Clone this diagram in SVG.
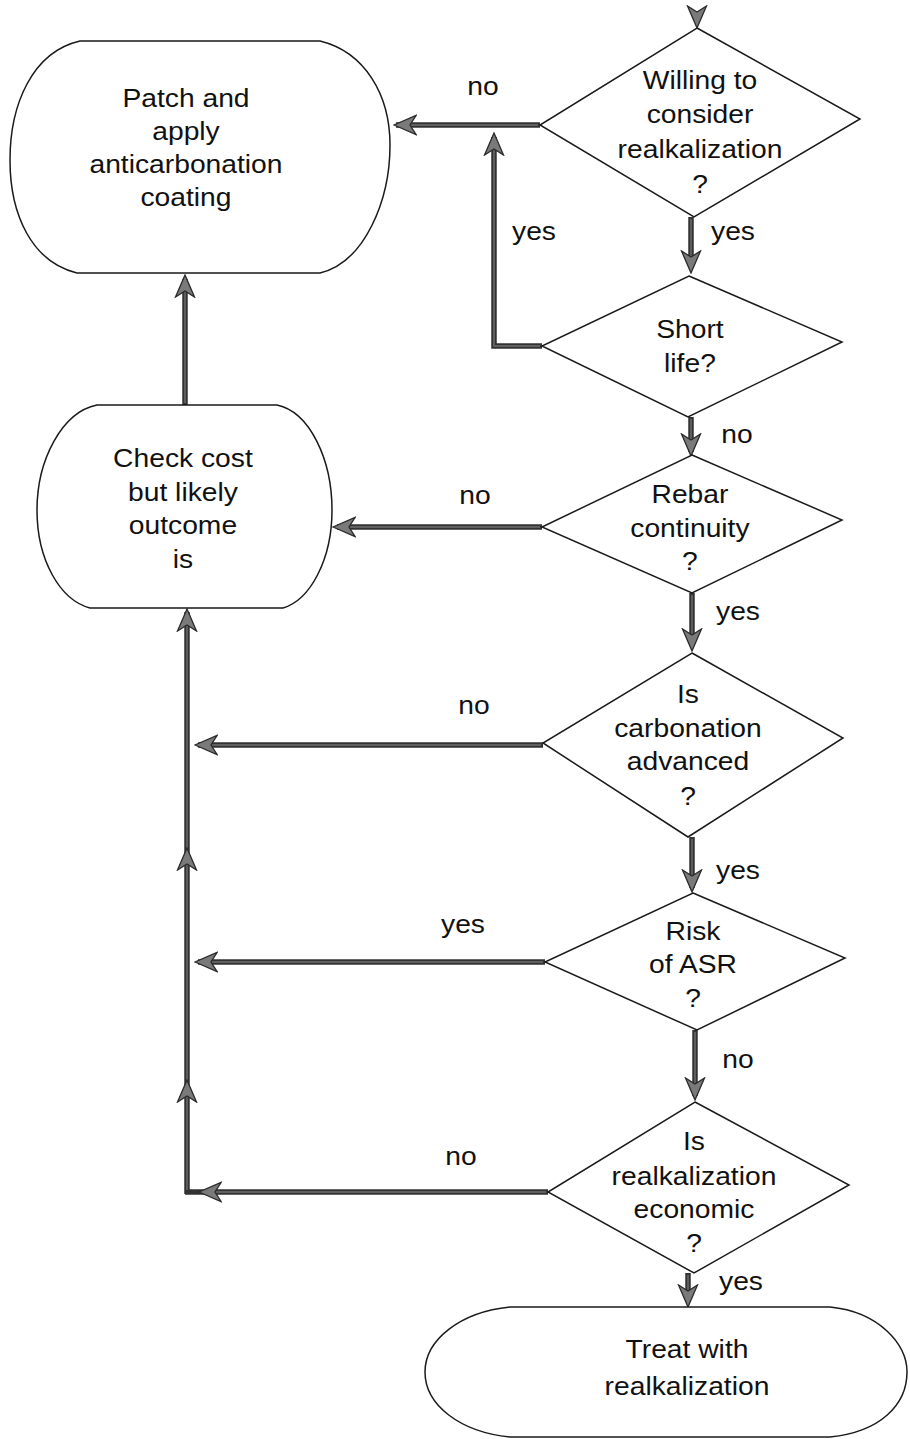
<svg xmlns="http://www.w3.org/2000/svg" width="910" height="1439" viewBox="0 0 910 1439">
<defs>
<style>
.bg{fill:#ffffff}
.node{fill:#ffffff;stroke:#1a1a1a;stroke-width:1.5}
.t{font-family:"Liberation Sans",Arial,Helvetica,sans-serif;font-size:25px;fill:#111;text-anchor:middle;transform-box:fill-box;transform-origin:center;transform:scaleX(1.13)}
.sh{fill:none;stroke:#333333;stroke-width:5.5}
.in{fill:none;stroke:#707070;stroke-width:1.4}
.hd{fill:none;stroke:none;marker-end:url(#ah)}
</style>
<marker id="ah" markerUnits="userSpaceOnUse" markerWidth="24" markerHeight="24" viewBox="-23 -12 24 24" refX="0" refY="0" orient="auto">
<path d="M0,0 L-22,-9.5 L-16,0 L-22,9.5 Z" fill="#7a7a7a" stroke="#2a2a2a" stroke-width="1.3" stroke-linejoin="miter"/>
</marker>
</defs>
<rect class="bg" x="0" y="0" width="910" height="1439"/>

<g id="connectors">
<path class="sh" d="M540,125 H396"/>
<path class="sh" d="M542,346 H494 V137"/>
<path class="sh" d="M691,217 V268"/>
<path class="sh" d="M691,417 V452"/>
<path class="sh" d="M692,593 V646"/>
<path class="sh" d="M692,837 V888"/>
<path class="sh" d="M695,1030 V1096"/>
<path class="sh" d="M688,1273 V1302"/>
<path class="sh" d="M542,527 H337"/>
<path class="sh" d="M543,745 H198"/>
<path class="sh" d="M545,962 H198"/>
<path class="sh" d="M548,1192 H185"/>
<path class="sh" d="M187,1194 V612"/>
<path class="sh" d="M185,405 V279"/>
<path class="in" d="M538,125 H405"/>
<path class="in" d="M540,346 H494 V146"/>
<path class="in" d="M691,219 V258"/>
<path class="in" d="M691,419 V445"/>
<path class="in" d="M692,595 V640"/>
<path class="in" d="M692,839 V880"/>
<path class="in" d="M695,1032 V1088"/>
<path class="in" d="M688,1275 V1292"/>
<path class="in" d="M540,527 H346"/>
<path class="in" d="M541,745 H210"/>
<path class="in" d="M543,962 H210"/>
<path class="in" d="M546,1192 H210"/>
<path class="in" d="M187,1190 V622"/>
<path class="in" d="M185,403 V290"/>
<path class="hd" d="M697,8 V28"/>
<path class="hd" d="M420,125 H394"/>
<path class="hd" d="M494,160 V133"/>
<path class="hd" d="M691,250 V273"/>
<path class="hd" d="M691,430 V456"/>
<path class="hd" d="M692,630 V651"/>
<path class="hd" d="M692,870 V892"/>
<path class="hd" d="M695,1080 V1100"/>
<path class="hd" d="M688,1285 V1307"/>
<path class="hd" d="M360,527 H333"/>
<path class="hd" d="M220,745 H195"/>
<path class="hd" d="M220,962 H195"/>
<path class="hd" d="M220,1192 H199"/>
<path class="hd" d="M187,1100 V1080"/>
<path class="hd" d="M187,870 V848"/>
<path class="hd" d="M187,630 V609"/>
<path class="hd" d="M185,300 V275"/>
</g>

<g id="patch">
<path class="node" d="M80,41 L320,41 C365,52 390,95 390,145 C390,200 365,262 320,273 L77,273 C32,262 10,215 10,160 C10,105 32,52 80,41 Z"/>
<text class="t"><tspan x="186" y="107">Patch and</tspan><tspan x="186" y="140">apply</tspan><tspan x="186" y="173">anticarbonation</tspan><tspan x="186" y="206">coating</tspan></text>
</g>

<g id="checkcost">
<path class="node" d="M97,405 L277,405 C310,412 332,460 332,510 C332,560 310,600 283,608 L90,608 C60,600 37,560 37,510 C37,460 62,412 97,405 Z"/>
<text class="t"><tspan x="183" y="467">Check cost</tspan><tspan x="183" y="501">but likely</tspan><tspan x="183" y="534">outcome</tspan><tspan x="183" y="568">is</tspan></text>
</g>

<g id="willing">
<polygon class="node" points="697,28 860,119 694,217 540,125"/>
<text class="t"><tspan x="700" y="89">Willing to</tspan><tspan x="700" y="123">consider</tspan><tspan x="700" y="158">realkalization</tspan><tspan x="700" y="193">?</tspan></text>
</g>

<g id="shortlife">
<polygon class="node" points="689,276 842,342 688,417 542,346"/>
<text class="t"><tspan x="690" y="338">Short</tspan><tspan x="690" y="372">life?</tspan></text>
</g>

<g id="rebar">
<polygon class="node" points="692,455 842,520 692,593 542,527"/>
<text class="t"><tspan x="690" y="503">Rebar</tspan><tspan x="690" y="537">continuity</tspan><tspan x="690" y="570">?</tspan></text>
</g>

<g id="carbonation">
<polygon class="node" points="692,653 843,738 688,837 543,743"/>
<text class="t"><tspan x="688" y="703">Is</tspan><tspan x="688" y="737">carbonation</tspan><tspan x="688" y="770">advanced</tspan><tspan x="688" y="805">?</tspan></text>
</g>

<g id="asr">
<polygon class="node" points="693,893 845,958 697,1030 545,962"/>
<text class="t"><tspan x="693" y="940">Risk</tspan><tspan x="693" y="973">of ASR</tspan><tspan x="693" y="1007">?</tspan></text>
</g>

<g id="economic">
<polygon class="node" points="695,1102 849,1185 694,1273 548,1192"/>
<text class="t"><tspan x="694" y="1150">Is</tspan><tspan x="694" y="1185">realkalization</tspan><tspan x="694" y="1218">economic</tspan><tspan x="694" y="1252">?</tspan></text>
</g>

<g id="treat">
<path class="node" d="M510,1307 L830,1307 C880,1312 907,1345 907,1372 C907,1405 880,1432 830,1437 L510,1437 C460,1432 425,1405 425,1372 C425,1340 460,1312 510,1307 Z"/>
<text class="t"><tspan x="687" y="1358">Treat with</tspan><tspan x="687" y="1395">realkalization</tspan></text>
</g>

<g id="labels">
<text class="t" x="483" y="95">no</text>
<text class="t" x="534" y="240">yes</text>
<text class="t" x="733" y="240">yes</text>
<text class="t" x="737" y="443">no</text>
<text class="t" x="475" y="504">no</text>
<text class="t" x="738" y="620">yes</text>
<text class="t" x="474" y="714">no</text>
<text class="t" x="738" y="879">yes</text>
<text class="t" x="463" y="933">yes</text>
<text class="t" x="738" y="1068">no</text>
<text class="t" x="461" y="1165">no</text>
<text class="t" x="741" y="1290">yes</text>
</g>
</svg>
